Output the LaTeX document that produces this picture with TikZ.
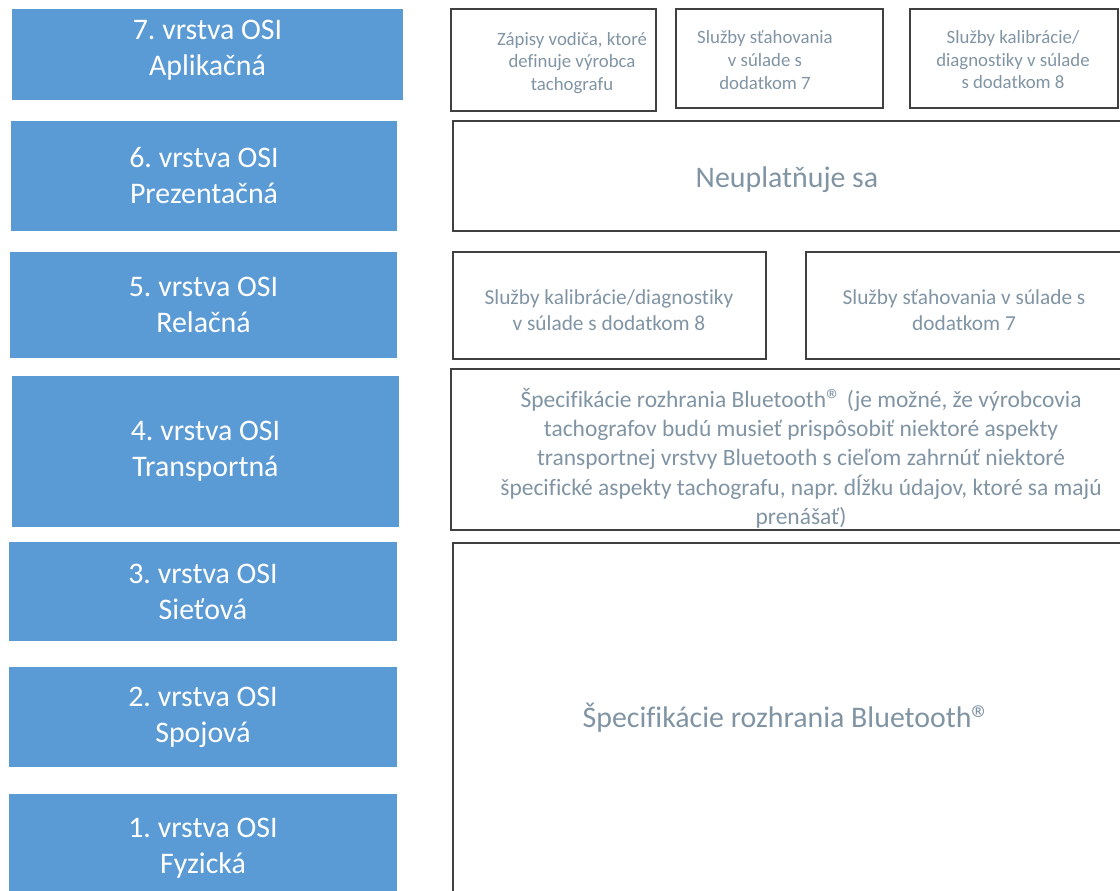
\documentclass[tikz,border=0pt]{standalone}
\usepackage{fontspec}
\setmainfont{Carlito}[Ligatures=NoCommon]
\usetikzlibrary{calc}
\frenchspacing

\definecolor{osiblue}{RGB}{91,155,213}
\definecolor{boxtext}{RGB}{128,148,164}
\definecolor{boxline}{RGB}{64,64,64}
\newcommand{\regmark}{\raisebox{-0.16em}{\scalebox{1.3}{®}}}

\begin{document}
\begin{tikzpicture}[x=0.75pt,y=-0.75pt,
	layer/.style={fill=osiblue},
	part/.style={draw=boxline,line width=1.1pt},
	layertext/.style={text=white,align=center,font=\fontsize{22.4}{27}\selectfont},
	parttext/.style={text=boxtext,align=center}]
	\useasboundingbox (0,0) rectangle (1120,890);
	\clip (0,0) rectangle (1120,890);
	
	
	
	% OSI layers (left column)
	\fill[layer] (12,9) coordinate (l7a) rectangle (403,100) coordinate (l7b);
	\node[layertext] (l7) at ($(l7a)!0.5!(l7b)+(0,-4)$) {7. vrstva OSI\\Aplikačná};
	
	\fill[layer] (11,121) coordinate (l6a) rectangle (397,231) coordinate (l6b);
	\node[layertext] (l6) at ($(l6a)!0.5!(l6b)$) {6. vrstva OSI\\Prezentačná};
	
	\fill[layer] (10,252) coordinate (l5a) rectangle (397,358) coordinate (l5b);
	\node[layertext] (l5) at ($(l5a)!0.5!(l5b)$) {5. vrstva OSI\\Relačná};
	
	\fill[layer] (12,376) coordinate (l4a) rectangle (399,527) coordinate (l4b);
	\node[layertext] (l4) at ($(l4a)!0.5!(l4b)$) {4. vrstva OSI\\Transportná};
	
	\fill[layer] (9,542) coordinate (l3a) rectangle (397,641) coordinate (l3b);
	\node[layertext] (l3) at ($(l3a)!0.5!(l3b)$) {3. vrstva OSI\\Sieťová};
	
	\fill[layer] (9,667) coordinate (l2a) rectangle (397,767) coordinate (l2b);
	\node[layertext] (l2) at ($(l2a)!0.5!(l2b)$) {2. vrstva OSI\\Spojová};
	
	\fill[layer] (9,794) coordinate (l1a) rectangle (397,900) coordinate (l1b);
	\node[layertext] (l1) at (203,848) {1. vrstva OSI\\Fyzická};
	
	
	
	% layer 7 boxes
	\draw[part] (451,9) rectangle (656,111);
	\node[parttext,font=\fontsize{14.1}{16.9}\selectfont] (zapisy) at (572,63) {Zápisy vodiča, ktoré\\definuje výrobca\\tachografu};
	
	\draw[part] (676,9) rectangle (883,108);
	\node[parttext,font=\fontsize{14.1}{16.9}\selectfont] (stah7) at (765,60) {Služby sťahovania\\v súlade s\\dodatkom 7};
	
	\draw[part] (910,9) rectangle (1118,108);
	\node[parttext,font=\fontsize{14.1}{16.9}\selectfont] (kal7) at (1013,60) {Služby kalibrácie/\\diagnostiky v súlade\\s dodatkom 8};
	
	
	
	% layer 6 box
	\draw[part] (453,121) rectangle (1130,231);
	\node[parttext,font=\fontsize{22.4}{27}\selectfont] (neupl) at (787,180) {Neuplatňuje sa};
	
	
	
	% layer 5 boxes
	\draw[part] (453,252) rectangle (766,359);
	\node[parttext,font=\fontsize{16}{19.5}\selectfont] (kal5) at (609,310) {Služby kalibrácie/diagnostiky\\v súlade s dodatkom 8};
	
	\draw[part] (806,252) rectangle (1130,359);
	\node[parttext,font=\fontsize{16}{19.5}\selectfont] (stah5) at (964,310) {Služby sťahovania v súlade s\\dodatkom 7};
	
	
	
	% layer 4 box
	\draw[part] (451,369) rectangle (1130,530);
	\node[parttext,font=\fontsize{17.6}{22}\selectfont] (bt4) at (801,458) {Špecifikácie rozhrania Bluetooth\regmark{} (je možné, že výrobcovia\\tachografov budú musieť prispôsobiť niektoré aspekty\\transportnej vrstvy Bluetooth s cieľom zahrnúť niektoré\\špecifické aspekty tachografu, napr. dĺžku údajov, ktoré sa majú\\prenášať)};
	
	
	
	% layers 1-3 box
	\draw[part] (453,543) rectangle (1130,900);
	\node[parttext,font=\fontsize{22.4}{27}\selectfont] (bt13) at (787,718) {Špecifikácie rozhrania Bluetooth\regmark};
	
\end{tikzpicture}
\end{document}
